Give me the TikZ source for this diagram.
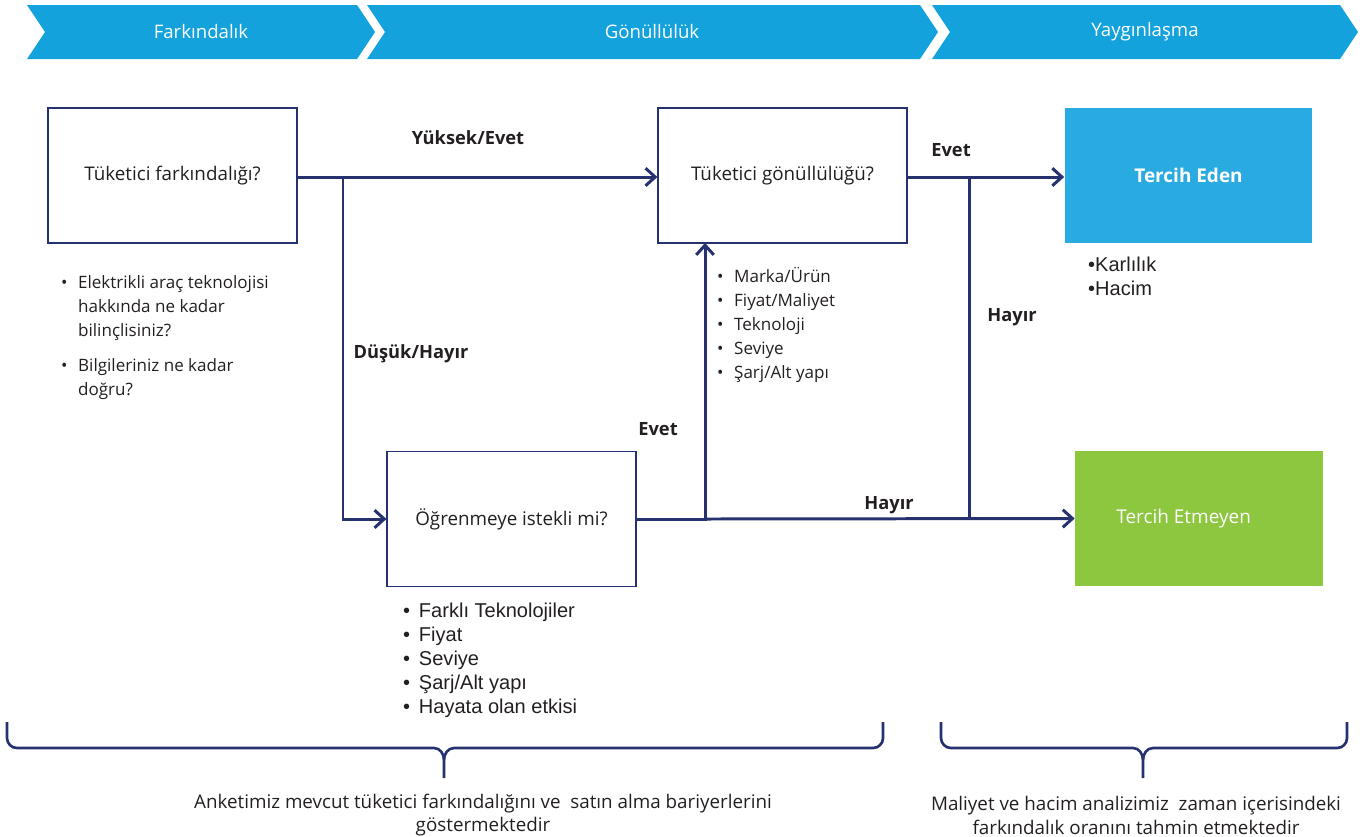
\documentclass[tikz,border=0pt]{standalone}
\usepackage{fontspec}
\setmainfont{Open Sans}
\newfontfamily\arialfont{Liberation Sans}
\usetikzlibrary{arrows.meta, positioning, calc}

\definecolor{navy}{RGB}{38,50,112}
\definecolor{headblue}{RGB}{19,162,220}
\definecolor{preferblue}{RGB}{41,171,226}
\definecolor{prefergreen}{RGB}{141,198,63}
\definecolor{textgray}{RGB}{35,31,32}

\begin{document}
\begin{tikzpicture}[
    x=0.02cm, y=-0.02cm,
    font=\fontsize{10}{12}\selectfont,
    text=textgray,
    chevron/.style = {fill=headblue, draw=none},
    headtext/.style = {text=white, font=\fontsize{10.6}{12}\selectfont},
    block/.style = {draw=navy, line width=0.7pt, rectangle, minimum width=4.98cm, minimum height=2.7cm, align=center, font=\fontsize{10.7}{12}\selectfont},
    result/.style = {rectangle, minimum width=4.96cm, minimum height=2.7cm, text=white, font=\fontsize{10.8}{12}\selectfont},
    flow/.style = {-{Straight Barb[length=5.5pt, width=10pt]}, draw=navy, line width=1.7pt},
    line/.style = {draw=navy, line width=1.7pt},
    decision/.style = {font=\bfseries\fontsize{10.4}{12}\selectfont},
    bullets/.style = {anchor=north west, align=left, font=\fontsize{9.7}{13.6}\selectfont},
    arialbullets/.style = {anchor=north west, align=left, font=\arialfont\fontsize{11.4}{13.6}\selectfont},
    brace/.style = {draw=navy, line width=1.5pt},
    summary/.style = {align=center, font=\fontsize{10.7}{13.6}\selectfont}
]
\useasboundingbox (0,0) rectangle (1371,836);

% =========================================================
% HEADER: three phases as chevrons
% =========================================================
\fill[chevron] (27,5) -- (357,5) -- (375,32) -- (357,59) -- (27,59) -- (45,32) -- cycle;
\fill[chevron] (367,5) -- (920,5) -- (938,32) -- (920,59) -- (367,59) -- (385,32) -- cycle;
\fill[chevron] (932,5) -- (1340,5) -- (1358,32) -- (1340,59) -- (932,59) -- (950,32) -- cycle;

\node[headtext] (phase1) at (201,32) {Farkındalık};
\node[headtext] (phase2) at (652,32) {Gönüllülük};
\node[headtext] (phase3) at (1145,32) {Yaygınlaşma};

% =========================================================
% DECISION BLOCKS
% =========================================================
\node[block] (aware) at (172.5,175.5) {Tüketici farkındalığı?};
\node[block] (willing) at (782.5,175.5) {Tüketici gönüllülüğü?};
\node[block] (learn) at (511.5,519) {Öğrenmeye istekli mi?};

% Outcomes
\node[result, fill=preferblue, font=\bfseries\fontsize{10.8}{12}\selectfont] (prefer) at (1188.5,175.5) {Tercih Eden};
\node[result, fill=prefergreen] (noprefer) at (1199,518.5) {};
\node[text=white, anchor=west, font=\fontsize{10.8}{12}\selectfont, inner sep=0pt] (noprefertext) at (1116,519) {Tercih Etmeyen};

% =========================================================
% WIRING
% =========================================================
\coordinate (split) at (343,177);
\coordinate (up) at (705,519);
\coordinate (upend) at (705,243);
\coordinate (split2) at (969,177);
\coordinate (join2) at (969,519);

\draw[flow] (aware.east |- split) -- (willing.west |- split);
\draw[flow] (split) |- (learn.west);
\draw[flow] (learn.east) -| (upend);
\draw[flow] (up) -- (noprefer.west);
\draw[flow] (willing.east |- split2) -- (prefer.west |- split2);
\draw[line] (split2) -- (join2);

% Branch labels
\node[decision] (yes1) at (468,138) {Yüksek/Evet};
\node[decision] (no1) at (411,354) {Düşük/Hayır};
\node[decision] (yes2) at (658,429) {Evet};
\node[decision] (no2) at (889,505) {Hayır};
\node[decision] (yes3) at (951,150) {Evet};
\node[decision] (no3) at (1012,317) {Hayır};

% =========================================================
% QUESTIONS / FACTORS
% =========================================================
\node[bullets] (awarelist) at (55,266) {%
  \begin{tabular}{@{}l@{\hspace{6pt}}l@{}}
  • & Elektrikli araç teknolojisi\\
    & hakkında ne kadar\\
    & bilinçlisiniz?\\[6pt]
  • & Bilgileriniz ne kadar\\
    & doğru?
  \end{tabular}};

\node[bullets] (willinglist) at (711,260) {%
  \begin{tabular}{@{}l@{\hspace{6pt}}l@{}}
  • & Marka/Ürün\\
  • & Fiyat/Maliyet\\
  • & Teknoloji\\
  • & Seviye\\
  • & Şarj/Alt yapı
  \end{tabular}};

\node[arialbullets] (learnlist) at (397,595) {%
  \begin{tabular}{@{}l@{\hspace{5pt}}l@{}}
  • & Farklı Teknolojiler\\
  • & Fiyat\\
  • & Seviye\\
  • & Şarj/Alt yapı\\
  • & Hayata olan etkisi
  \end{tabular}};

\node[arialbullets] (preferlist) at (1082,251) {•Karlılık\\•Hacim};

% =========================================================
% BRACES + SUMMARY
% =========================================================
\draw[brace] (7,722) -- (7,738) to[out=-90, in=180] (17,748) -- (434,748)
  to[out=0, in=90] (444,760) -- (444,778);
\draw[brace] (444,760) to[out=90, in=180] (454,748) -- (873,748)
  to[out=0, in=-90] (883,738) -- (883,722);

\draw[brace] (941,722) -- (941,738) to[out=-90, in=180] (951,748) -- (1133,748)
  to[out=0, in=90] (1143,760) -- (1143,778);
\draw[brace] (1143,760) to[out=90, in=180] (1153,748) -- (1337,748)
  to[out=0, in=-90] (1347,738) -- (1347,722);

\node[summary] (survey) at (483,815) {Anketimiz mevcut tüketici farkındalığını ve\ \ satın alma bariyerlerini\\göstermektedir};
\node[summary] (costs) at (1136,815) {Maliyet ve hacim analizimiz\ \ zaman içerisindeki\\farkındalık oranını tahmin etmektedir};

\end{tikzpicture}
\end{document}
